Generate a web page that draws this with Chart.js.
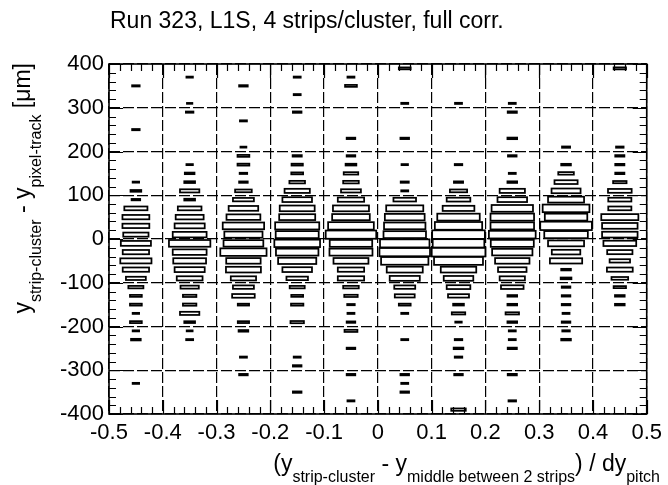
<!DOCTYPE html>
<html>
<head>
<meta charset="utf-8">
<script src="https://cdn.jsdelivr.net/npm/chart.js@4.4.1/dist/chart.umd.min.js"></script>
<style>
    body { margin: 0; background: #fff; }
    #boxChart { display: block; }
</style>
</head>
<body>
<canvas id="boxChart" width="668" height="485"></canvas>
<script>
// bin centres of the 2D histogram (x: 10 bins, y: 40 bins, top to bottom)
var xBins = [-0.45, -0.35, -0.25, -0.15, -0.05, 0.05, 0.15, 0.25, 0.35, 0.45];
var yBins = [390, 370, 350, 330, 310, 290, 270, 250, 230, 210,
    190, 170, 150, 130, 110, 90, 70, 50, 30, 10,
    -10, -30, -50, -70, -90, -110, -130, -150, -170, -190,
    -210, -230, -250, -270, -290, -310, -330, -350, -370, -390];
var binW = 0.1;
var binH = 20;
var zMax = 100;

// relative bin content per x column (same order as yBins)
var colM045 = [0, 0, 14, 0, 0, 0, 0, 14, 0, 0,
    0, 0, 0, 12, 20, 16, 43, 50, 50, 47,
    56, 49, 58, 49, 37, 28, 22, 22, 12, 22,
    12, 18, 0, 0, 0, 0, 12, 0, 0, 0];
var colM035 = [0, 12, 0, 0, 10, 14, 0, 0, 0, 0,
    0, 12, 18, 20, 36, 20, 44, 52, 56, 63,
    77, 63, 61, 56, 48, 34, 25, 25, 36, 20,
    11, 13, 0, 0, 0, 0, 0, 0, 0, 0];
var colM025 = [0, 0, 16, 0, 0, 0, 13, 0, 0, 11,
    22, 22, 14, 16, 31, 39, 55, 63, 77, 71,
    74, 86, 64, 65, 47, 39, 42, 21, 0, 21,
    18, 0, 0, 13, 0, 16, 0, 0, 0, 0];
var colM015 = [0, 13, 0, 13, 0, 16, 0, 0, 0, 0,
    17, 21, 22, 29, 47, 55, 65, 67, 82, 80,
    85, 79, 71, 55, 40, 28, 22, 23, 0, 25,
    0, 0, 0, 13, 16, 0, 0, 16, 0, 0];
var colM005 = [0, 13, 22, 0, 0, 0, 0, 0, 16, 0,
    16, 20, 27, 29, 37, 49, 67, 70, 85, 94,
    79, 80, 65, 49, 49, 29, 25, 14, 13, 16,
    24, 0, 16, 0, 0, 16, 0, 0, 13, 0];
var colP005 = [22, 0, 0, 0, 13, 0, 0, 0, 16, 0,
    0, 12, 0, 15, 13, 42, 69, 74, 77, 79,
    92, 94, 88, 67, 56, 39, 37, 22, 13, 0,
    0, 13, 0, 0, 0, 16, 13, 16, 0, 0];
var colP015 = [0, 0, 0, 0, 13, 0, 0, 0, 0, 0,
    0, 14, 0, 17, 32, 44, 59, 79, 88, 98,
    96, 100, 91, 66, 55, 44, 39, 20, 25, 12,
    0, 14, 18, 14, 0, 16, 0, 0, 0, 27];
var colP025 = [0, 0, 0, 0, 13, 17, 0, 0, 18, 0,
    16, 0, 13, 18, 47, 55, 77, 81, 81, 87,
    80, 75, 64, 53, 47, 42, 18, 18, 25, 18,
    13, 13, 17, 0, 0, 17, 0, 0, 14, 0];
var colP035 = [0, 0, 0, 0, 0, 0, 0, 0, 0, 15,
    0, 18, 29, 43, 54, 67, 87, 79, 96, 81,
    67, 53, 60, 18, 20, 16, 16, 16, 13, 16,
    14, 18, 0, 0, 0, 0, 0, 0, 0, 0];
var colP045 = [23, 0, 0, 0, 0, 0, 0, 0, 0, 14,
    17, 17, 17, 25, 44, 43, 43, 69, 66, 66,
    61, 47, 38, 48, 31, 23, 18, 18, 0, 0,
    0, 0, 0, 0, 0, 0, 0, 0, 0, 0];
var columns = [colM045, colM035, colM025, colM015, colM005,
    colP005, colP015, colP025, colP035, colP045];

var titleText = 'Run 323, L1S, 4 strips/cluster, full corr.';
var xTitle = [['(y', 0], ['strip-cluster', 1], [' - y', 0], ['middle between 2 strips', 1], [') / dy', 0], ['pitch', 1]];
var yTitle = [['y', 0], ['strip-cluster', 1], [' - y', 0], ['pixel-track', 1], [' [\u03bcm]', 0]];

var fontFam = "'Liberation Sans', Arial, Helvetica, sans-serif";

var datasets = [];
function each(arr, fn) { for (var i = 0; i < arr.length; i++) fn(i, arr[i]); }
each(columns, function (i, col) {
    var pts = [];
    each(col, function (k, v) {
        if (v > 0) pts.push({x: xBins[i], y: yBins[k], v: v});
    });
    datasets.push({label: String(xBins[i]), data: pts, pointRadius: 0, showLine: false});
});

function drawRich(c, parts, x, y, align) {
    var w = 0;
    each(parts, function (i, p) {
        c.font = (p[1] ? 16 : 23) + 'px ' + fontFam;
        w += c.measureText(p[0]).width;
    });
    var cx = align === 'right' ? x - w : x;
    each(parts, function (i, p) {
        c.font = (p[1] ? 16 : 23) + 'px ' + fontFam;
        c.fillText(p[0], cx, p[1] ? y + 11 : y);
        cx += c.measureText(p[0]).width;
    });
}

// ROOT style boxes, frame, inner tick marks and labels
var rootBoxes = {
    id: 'rootBoxes',
    afterDatasetsDraw: function (chart) {
        var c = chart.ctx, xs = chart.scales.x, ys = chart.scales.y;
        var a = chart.chartArea;
        c.save();
        c.strokeStyle = '#000';
        c.lineWidth = 1.75;
        c.setLineDash([]);
        chart.data.datasets.forEach(function (ds) {
            ds.data.forEach(function (p) {
                var f = p.v / zMax;
                var x0 = xs.getPixelForValue(p.x - binW / 2 * f);
                var x1 = xs.getPixelForValue(p.x + binW / 2 * f);
                var y0 = ys.getPixelForValue(p.y + binH / 2 * f);
                var y1 = ys.getPixelForValue(p.y - binH / 2 * f);
                c.strokeRect(x0, y0, x1 - x0, Math.max(y1 - y0, 0.3));
            });
        });

        // tick marks on all four sides
        c.lineWidth = 1.2;
        c.beginPath();
        for (var v = -400; v <= 400; v += 20) {
            var py = Math.round(ys.getPixelForValue(v)) + 0.5;
            var len = (v % 100 === 0) ? 14 : 7;
            c.moveTo(a.left, py); c.lineTo(a.left + len, py);
            c.moveTo(a.right, py); c.lineTo(a.right - len, py);
        }
        for (var j = 0; j <= 50; j++) {
            var px = Math.round(xs.getPixelForValue(-0.5 + j * 0.02)) + 0.5;
            var tl = (j % 5 === 0) ? 14 : 7;
            c.moveTo(px, a.bottom); c.lineTo(px, a.bottom - tl);
            c.moveTo(px, a.top); c.lineTo(px, a.top + tl);
        }
        c.stroke();

        c.lineWidth = 1.6;
        c.strokeRect(a.left, a.top, a.right - a.left, a.bottom - a.top);
        c.restore();
    },
    afterDraw: function (chart) {
        var c = chart.ctx;
        c.save();
        c.fillStyle = '#000';
        c.textBaseline = 'alphabetic';
        c.font = '23px ' + fontFam;
        c.fillText(titleText, 110, 28);

        drawRich(c, xTitle, 660, 471, 'right');

        c.translate(30, 63);
        c.rotate(-Math.PI / 2);
        drawRich(c, yTitle, 0, 0, 'right');
        c.restore();
    }
};

var ctx = document.getElementById('boxChart');
var boxChart = new Chart(ctx, {
    type: 'scatter',
    data: {datasets: datasets},
    options: {
        responsive: false,
        animation: false,
        layout: {padding: {top: 64, right: 17, left: 0, bottom: 0}},
        plugins: {
            legend: {display: false},
            tooltip: {enabled: false},
            title: {display: false}
        },
        scales: {
            x: {
                type: 'linear',
                min: -0.5,
                max: 0.5,
                afterFit: function (s) { s.height = 71; },
                ticks: {
                    stepSize: 0.1,
                    autoSkip: false,
                    maxRotation: 0,
                    padding: 6,
                    color: '#000',
                    font: {family: fontFam, size: 22},
                    callback: function (value) { return String(Number(value.toFixed(1))); }
                },
                grid: {color: '#000', lineWidth: 1.2, drawTicks: false},
                border: {display: false, dash: [11, 3]}
            },
            y: {
                type: 'linear',
                min: -400,
                max: 400,
                afterFit: function (s) { s.width = 109; },
                ticks: {
                    stepSize: 20,
                    autoSkip: false,
                    padding: 5,
                    color: '#000',
                    font: {family: fontFam, size: 22},
                    callback: function (value) { return value % 100 === 0 ? String(value) : ''; }
                },
                grid: {
                    color: function (context) {
                        return context.tick && context.tick.value % 100 === 0 ? '#000' : 'rgba(0,0,0,0)';
                    },
                    lineWidth: 1.2,
                    drawTicks: false
                },
                border: {display: false, dash: [11, 3]}
            }
        }
    },
    plugins: [rootBoxes]
});
</script>
</body>
</html>
